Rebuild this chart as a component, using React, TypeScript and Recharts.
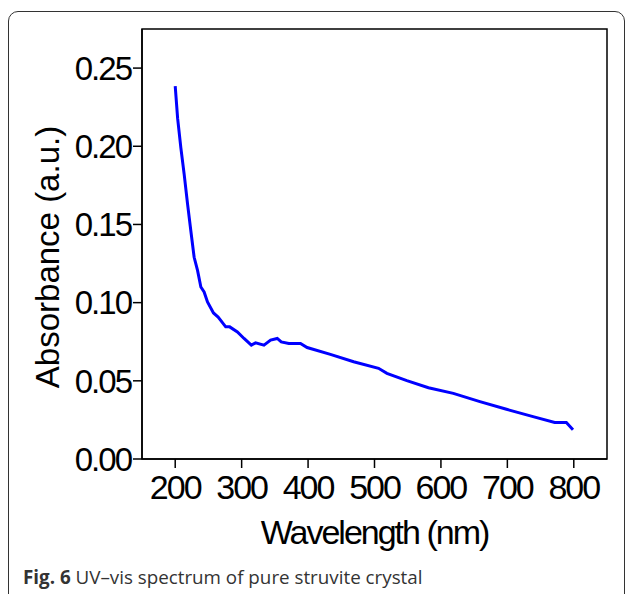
import React from 'react';
import { LineChart, Line, XAxis, YAxis, ReferenceArea, Label } from 'recharts';

const wavelength = [200, 203.6, 208.5, 213.5, 218.6, 223.5, 228.5, 233.6, 238.6, 243.5, 248.6, 257.6, 264.6, 276, 282, 293.6, 303.6, 314.6, 321, 333.6, 343.6, 353.6, 359.6, 371, 388.6, 398.6, 433.6, 468.6, 506.1, 518.7, 548.7, 581.2, 618.7, 658.7, 698.7, 738.7, 771.3, 788.8, 798.8];
const absorbance = [0.2384, 0.218, 0.199, 0.182, 0.163, 0.146, 0.129, 0.1206, 0.110, 0.1068, 0.1004, 0.0934, 0.0908, 0.0845, 0.0845, 0.0813, 0.0771, 0.0728, 0.0743, 0.0728, 0.076, 0.0771, 0.0749, 0.0739, 0.0739, 0.0713, 0.0669, 0.0622, 0.058, 0.0548, 0.0501, 0.0456, 0.042, 0.0367, 0.0318, 0.0271, 0.0233, 0.0233, 0.0187];
const xTicks = [200, 300, 400, 500, 600, 700, 800];
const yTicks = [0, 0.05, 0.1, 0.15, 0.2, 0.25];

const data = wavelength.map((w, i) => ({ w, a: absorbance[i] }));

const axisFont = '"Liberation Sans", Arial, sans-serif';

export default function App() {
  return (
    <div style={{ position: 'absolute', left: 0, top: 0, width: 629, height: 594, overflow: 'hidden', background: '#fff' }}>
      <div style={{ position: 'absolute', left: 8, top: 11, width: 617, height: 620, border: '1.5px solid #333', borderRadius: 10, boxSizing: 'border-box' }} />
      <div style={{ position: 'absolute', left: 0, top: 0 }}>
        <LineChart width={629} height={594} data={data} margin={{ top: 29, right: 22, left: 0, bottom: 0 }}>
          <XAxis
            dataKey="w"
            type="number"
            domain={[150, 850]}
            ticks={xTicks}
            allowDataOverflow
            height={135}
            tickSize={9}
            tickMargin={7}
            stroke="#000"
            strokeWidth={1.5}
            tick={{ fill: '#000', fontSize: 34, fontFamily: axisFont, letterSpacing: -2 }}
          >
            <Label value="Wavelength (nm)" position="insideTop" offset={61} style={{ fill: '#000', fontSize: 34, fontFamily: axisFont, letterSpacing: -2 }} />
          </XAxis>
          <YAxis
            type="number"
            domain={[0, 0.275]}
            ticks={yTicks}
            allowDataOverflow
            width={142}
            tickSize={9}
            tickMargin={2}
            stroke="#000"
            strokeWidth={1.5}
            tickFormatter={(v: number) => v.toFixed(2)}
            tick={{ fill: '#000', fontSize: 33, fontFamily: axisFont, letterSpacing: -2 }}
          >
            <Label value="Absorbance (a.u.)" angle={-90} position="insideLeft" offset={47} dy={13} style={{ fill: '#000', fontSize: 33, fontFamily: axisFont, textAnchor: 'middle' }} />
          </YAxis>
          <ReferenceArea x1={150} x2={850} y1={0} y2={0.275} fill="none" stroke="#000" strokeWidth={1.5} ifOverflow="visible" />
          <Line type="linear" dataKey="a" stroke="#0000ff" strokeWidth={3} dot={false} isAnimationActive={false} />
        </LineChart>
      </div>
      <div style={{ position: 'absolute', left: 23, top: 564, fontFamily: '"Open Sans", sans-serif', fontSize: 18.8, color: '#333', whiteSpace: 'nowrap' }}>
        <b>Fig. 6</b> UV–vis spectrum of pure struvite crystal
      </div>
    </div>
  );
}
